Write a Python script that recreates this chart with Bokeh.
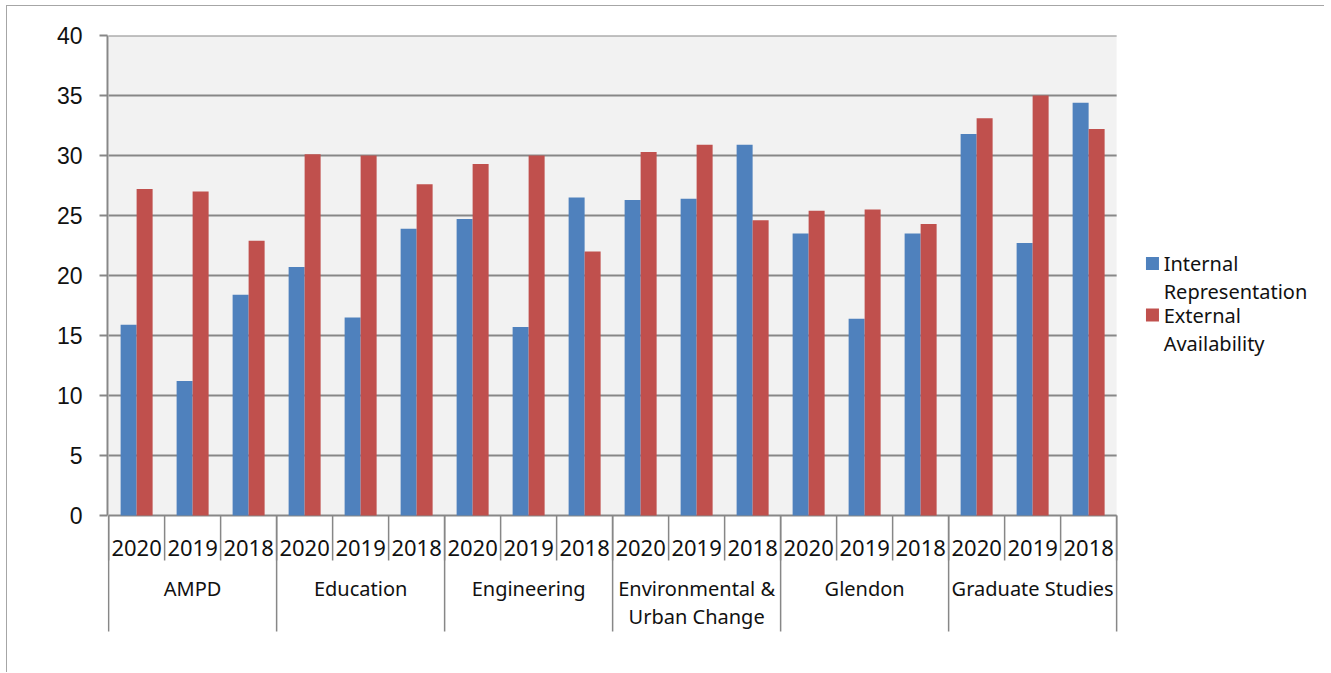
from bokeh.plotting import figure
from bokeh.models import Range1d, FixedTicker, Label, ColumnDataSource
from bokeh.core.properties import value
from bokeh.embed import file_html
from bokeh.resources import INLINE

# ---------------- data ----------------
groups = ["AMPD", "Education", "Engineering", "Environmental &\nUrban Change", "Glendon", "Graduate Studies"]
years = ["2020", "2019", "2018"]
internal = [15.9, 11.2, 18.4, 20.7, 16.5, 23.9, 24.7, 15.7, 26.5,
            26.3, 26.4, 30.9, 23.5, 16.4, 23.5, 31.8, 22.7, 34.4]
external = [27.2, 27.0, 22.9, 30.1, 30.0, 27.6, 29.3, 30.0, 22.0,
            30.3, 30.9, 24.6, 25.4, 25.5, 24.3, 33.1, 35.0, 32.2]
series_names = ["Internal\nRepresentation", "External\nAvailability"]
y_ticks = [0, 5, 10, 15, 20, 25, 30, 35, 40]
y_label = "%"

# ---------------- styling ----------------
BLUE = "#4f81bd"
RED = "#c0504d"
GRID = "#878787"
TXT = "#111111"
XFONT = "Noto Sans"
YFONT = "Liberation Sans"

n_years = len(years)
n = len(groups) * n_years
ymax = y_ticks[-1]

p = figure(width=1318, height=667,
           x_range=Range1d(-0.02, 21.587), y_range=Range1d(-10, ymax),
           output_backend="svg", toolbar_location=None,
           x_axis_location=None,
           min_border_left=100, min_border_right=8,
           min_border_top=29, min_border_bottom=38)
p.margin = (5, 0, 0, 6)
p.styles = {"border-top": "1px solid #a6a6a6", "border-left": "1px solid #a6a6a6"}
p.background_fill_color = "white"
p.border_fill_color = "white"
p.outline_line_color = None
p.grid.visible = False

# y axis
ya = p.yaxis[0]
ya.ticker = FixedTicker(ticks=y_ticks, minor_ticks=[])
ya.bounds = (0, ymax)
ya.major_tick_out = 8
ya.major_tick_in = 0
ya.minor_tick_line_color = None
ya.axis_line_color = GRID
ya.axis_line_width = 2
ya.major_tick_line_color = GRID
ya.major_tick_line_width = 2
ya.major_label_text_font = YFONT
ya.major_label_text_font_size = "23px"
ya.major_label_text_color = TXT
ya.major_label_standoff = 17

# plot background
p.quad(left=[0], right=[n], bottom=[0], top=[ymax],
       fill_color="#f2f2f2", line_color=None)

# grid lines
p.segment(x0=[0] * len(y_ticks), x1=[n] * len(y_ticks), y0=y_ticks, y1=y_ticks,
          line_color=GRID, line_width=2)

# bars
bw = 16 / 56
centers = [i + 0.5 for i in range(n)]
src = ColumnDataSource(dict(
    xi=[c - bw / 2 for c in centers],
    xe=[c + bw / 2 for c in centers],
    internal=internal, external=external))
p.vbar(x="xi", top="internal", bottom=0, width=bw, source=src,
       fill_color=BLUE, line_color=None)
p.vbar(x="xe", top="external", bottom=0, width=bw, source=src,
       fill_color=RED, line_color=None)

# category axis (two levels)
year_sep_y = -45 / 12
group_sep_y = -116 / 12
p.segment(x0=list(range(n + 1)), x1=list(range(n + 1)),
          y0=[0] * (n + 1), y1=[year_sep_y] * (n + 1),
          line_color=GRID, line_width=1.5)
gx = list(range(0, n + 1, n_years))
p.segment(x0=gx, x1=gx, y0=[0] * len(gx), y1=[group_sep_y] * len(gx),
          line_color=GRID, line_width=1.5)

p.text(x=centers, y=[-32 / 12] * n, text=[years[i % n_years] for i in range(n)],
       text_align="center", text_baseline="middle",
       text_font=value(XFONT), text_font_size="22px", text_color=TXT)

gt_x, gt_y, gt_t = [], [], []
for gi, g in enumerate(groups):
    for li, line in enumerate(g.split("\n")):
        gt_x.append(gi * n_years + n_years / 2)
        gt_y.append((-73 - 28 * li) / 12)
        gt_t.append(line)
p.text(x=gt_x, y=gt_y, text=gt_t, text_align="center", text_baseline="middle",
       text_font=value(XFONT), text_font_size="20px", text_color=TXT)

# y axis title
p.add_layout(Label(x=-1.27, y=214.5 / 12, text=y_label, text_align="center",
                   text_baseline="middle", text_font=YFONT,
                   text_font_size="23px", text_color=TXT))

# legend (manual, wrapped labels)
lx = 18.64
ly = [252 / 12, 200.5 / 12]
p.rect(x=[lx, lx], y=ly, width=13, height=13, width_units="screen",
       height_units="screen", fill_color=[BLUE, RED], line_color=None)
lt_x, lt_y, lt_t = [], [], []
for si, s in enumerate(series_names):
    for li, line in enumerate(s.split("\n")):
        lt_x.append(18.84)
        lt_y.append(ly[si] - 28 * li / 12)
        lt_t.append(line)
p.text(x=lt_x, y=lt_y, text=lt_t, text_align="left", text_baseline="middle",
       text_font=value(XFONT), text_font_size="20px", text_color=TXT)

open("out.html", "w").write(file_html(p, INLINE))
